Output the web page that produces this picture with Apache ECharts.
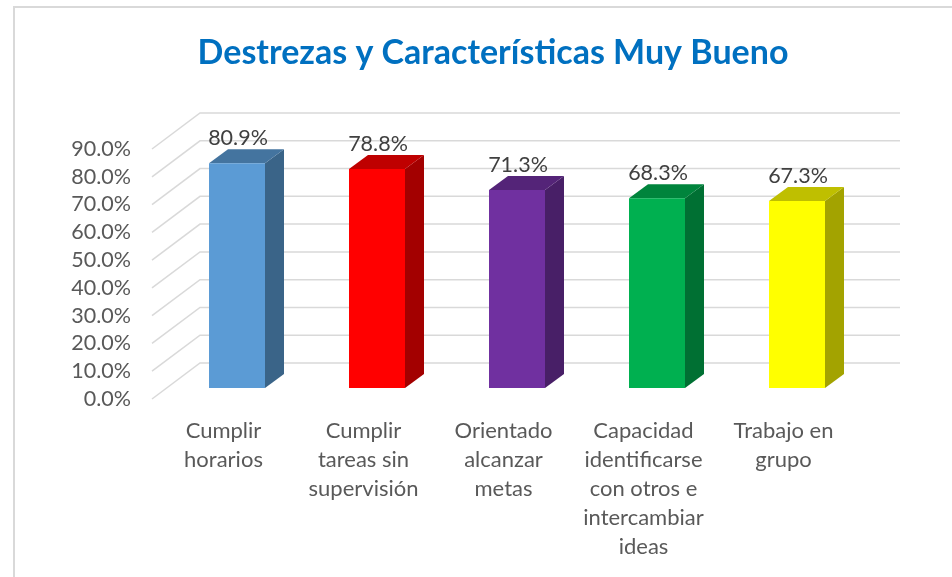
<!DOCTYPE html>
<html>
<head>
<meta charset="utf-8">
<style>html,body{margin:0;padding:0;background:#fff}#c{width:952px;height:577px}</style>
<script src="https://cdn.jsdelivr.net/npm/echarts@6/dist/echarts.min.js"></script>
</head>
<body>
<div id="c"></div>
<script>
const categories = [
  'Cumplir\nhorarios',
  'Cumplir\ntareas sin\nsupervisión',
  'Orientado\nalcanzar\nmetas',
  'Capacidad\nidentificarse\ncon otros e\nintercambiar\nideas',
  'Trabajo en\ngrupo'
];
const values = [80.9, 78.8, 71.3, 68.3, 67.3];
const ticks = [0, 10, 20, 30, 40, 50, 60, 70, 80, 90];
const frontColors = ['#5B9BD5', '#FF0000', '#7030A0', '#00B050', '#FFFF00'];
const topColors = ['#44749F', '#BF0000', '#542478', '#00843C', '#BFBF00'];
const sideColors = ['#3A6488', '#A30000', '#481F67', '#007033', '#A3A300'];

const FONT = 'Lato';
const WALL_DX = 48, WALL_DY = 36;
const BAR_DX = 15, BAR_DY = 11, BAR_W = 56, SIDE_DX = 19, SIDE_DY = 14;

const chart = echarts.init(document.getElementById('c'), null, {renderer: 'canvas'});
chart.setOption({
  animation: false,
  backgroundColor: '#fff',
  title: {
    text: 'Destrezas y Características Muy Bueno',
    left: 488, top: 31, textAlign: 'center',
    textStyle: {color: '#0070C0', fontFamily: FONT, fontWeight: 'bold', fontSize: 34}
  },
  graphic: [{
    type: 'polyline', silent: true,
    shape: {points: [[14, 577], [14, 7], [952, 7]]},
    style: {stroke: '#D9D9D9', lineWidth: 2, fill: null}
  }],
  grid: {left: 152, width: 700, top: 149, height: 250},
  xAxis: {
    type: 'category', data: categories,
    axisLine: {show: false}, axisTick: {show: false},
    axisLabel: {interval: 0, color: '#595959', fontFamily: FONT, fontSize: 22, lineHeight: 29, margin: 17, padding: [0, 0, 0, 3]}
  },
  yAxis: {
    type: 'value', min: 0, max: 90, interval: 10,
    axisLine: {show: false}, axisTick: {show: false}, splitLine: {show: false},
    axisLabel: {color: '#595959', fontFamily: FONT, fontSize: 21.5, margin: 21, padding: [8, 0, 0, 0],
      formatter: v => v.toFixed(1) + '%'}
  },
  series: [{
    type: 'custom', silent: true, clip: false, z: 1,
    data: ticks.map(t => [0, t]),
    encode: {x: 0, y: 1},
    renderItem(params, api) {
      const c = api.coord([0, api.value(1)]);
      const band = api.size([1, 0])[0];
      const x0 = c[0] - band / 2;
      return {
        type: 'polyline',
        shape: {points: [[x0, c[1]], [x0 + WALL_DX, c[1] - WALL_DY], [x0 + band * categories.length + WALL_DX, c[1] - WALL_DY]]},
        style: {stroke: '#D9D9D9', lineWidth: 1.5, fill: null}
      };
    }
  }, {
    type: 'custom', silent: true, clip: false, z: 2,
    data: values.map((v, i) => [i, v]),
    encode: {x: 0, y: 1},
    renderItem(params, api) {
      const i = api.value(0), v = api.value(1);
      const top = api.coord([i, v]);
      const base = api.coord([i, 0]);
      const xl = top[0] + BAR_DX - BAR_W / 2, xr = xl + BAR_W;
      const yt = top[1] - BAR_DY, yb = base[1] - BAR_DY;
      return {
        type: 'group',
        children: [{
          type: 'polygon',
          shape: {points: [[xr, yt], [xr + SIDE_DX, yt - SIDE_DY], [xr + SIDE_DX, yb - SIDE_DY], [xr, yb]]},
          style: {fill: sideColors[i]}
        }, {
          type: 'polygon',
          shape: {points: [[xl, yt], [xl + SIDE_DX, yt - SIDE_DY], [xr + SIDE_DX, yt - SIDE_DY], [xr, yt]]},
          style: {fill: topColors[i]}
        }, {
          type: 'rect',
          shape: {x: xl, y: yt, width: BAR_W, height: yb - yt},
          style: {fill: frontColors[i]}
        }, {
          type: 'text',
          style: {
            text: v.toFixed(1) + '%', x: (xl + xr) / 2 + 1, y: yt - 14,
            align: 'center', verticalAlign: 'bottom',
            fill: '#404040', font: '21.5px ' + FONT
          }
        }]
      };
    }
  }]
});
</script>
</body>
</html>
